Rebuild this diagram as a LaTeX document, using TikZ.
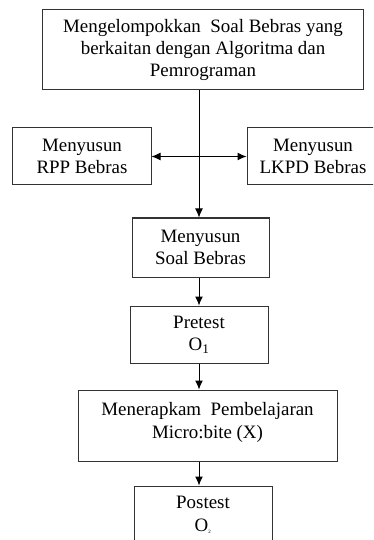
\documentclass[tikz,border=0pt]{standalone}
\usepackage{fontspec}
\setmainfont{Liberation Serif}
\usetikzlibrary{arrows.meta}
\tikzset{
  box/.style={draw=black!80, line width=1bp, align=center, inner sep=0pt,
    font=\fontsize{19}{22.5}\selectfont},
  arr/.style={-{Latex[length=9bp,width=8bp]}, line width=1bp}
}
\begin{document}
\begin{tikzpicture}[x=1bp,y=-1bp]
	\useasboundingbox (0,0) rectangle (373,540);
	\clip (0,0) rectangle (373,540);
	% Boxes
	\node[box, minimum width=320bp, minimum height=80bp] (top) at (203,50)
		{Mengelompokkan\ \ Soal Bebras yang\\berkaitan dengan Algoritma dan\\Pemrograman};
	\node[box, minimum width=138bp, minimum height=57bp] (rpp) at (82,156.5) {Menyusun\\RPP Bebras};
	\node[box, minimum width=132bp, minimum height=57bp] (lkpd) at (313,156.5) {Menyusun\\LKPD Bebras};
	\node[box, minimum width=137bp, minimum height=59bp] (soal) at (200.5,247.5) {Menyusun\\Soal Bebras};
	\node[box, minimum width=138bp, minimum height=57bp] (pretest) at (199,334.5) {Pretest\\O\textsubscript{1}};
	\node[box, minimum width=259bp, minimum height=71bp, text depth=10bp] (terapkan) at (207.5,425.5)
		{Menerapkam\ \ Pembelajaran\\Micro:bite (X)};
	\node[box, minimum width=138bp, minimum height=58bp] (postest) at (203,515) {Postest\\O\textsubscript{\tiny 2}};
	% Arrows
	\coordinate (axis) at (199,0);
	\draw[arr] (top.south -| axis) -- (soal.north -| axis);
	\draw[arr, {Latex[length=9bp,width=8bp]}-{Latex[length=9bp,width=8bp]}] (rpp.east) -- (lkpd.west);
	\draw[arr] (soal.south -| axis) -- (pretest.north -| axis);
	\draw[arr] (pretest.south -| axis) -- (terapkan.north -| axis);
	\draw[arr] (terapkan.south -| axis) -- (postest.north -| axis);
\end{tikzpicture}
\end{document}
